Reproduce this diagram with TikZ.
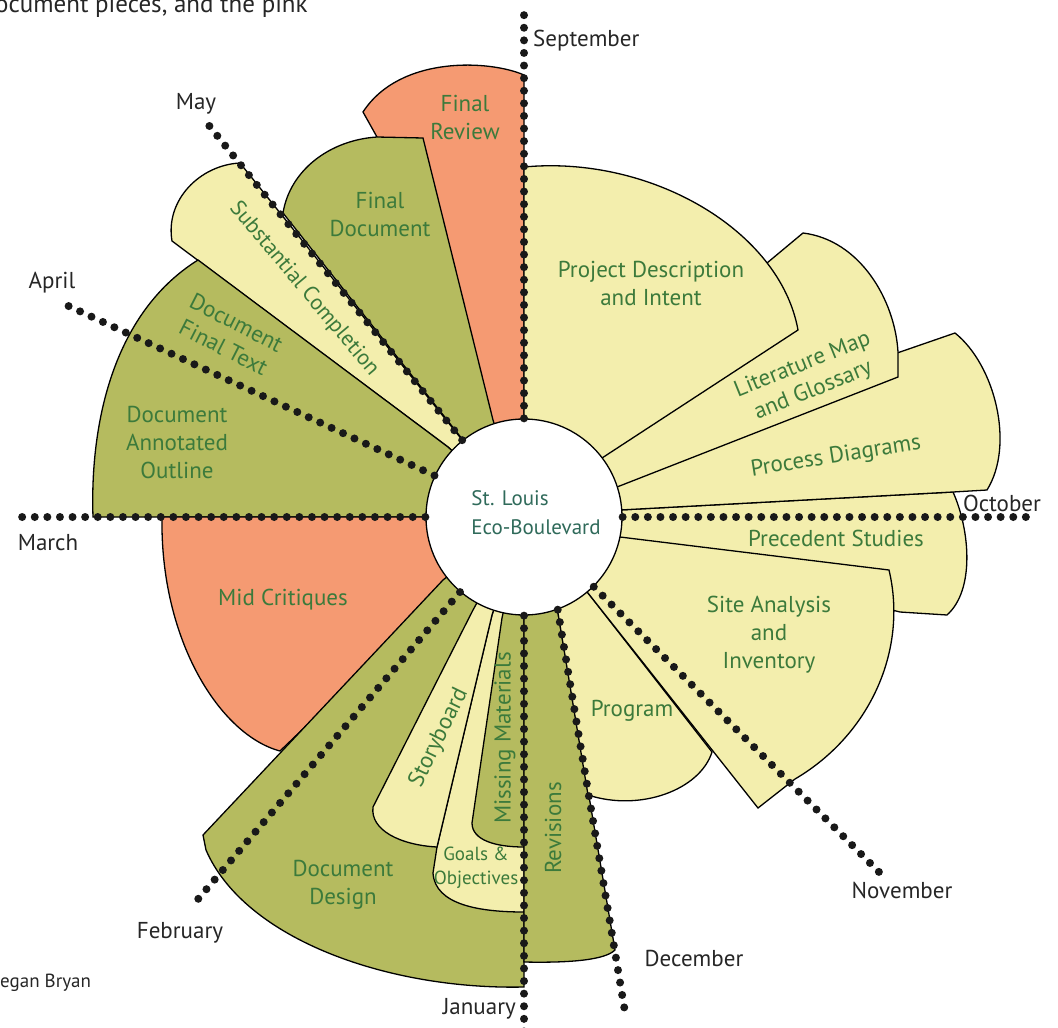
\documentclass[tikz,border=0pt]{standalone}
\usepackage{fontspec}
\setmainfont{PT Sans}
\definecolor{paleyellow}{HTML}{F3EEAD}
\definecolor{olivegreen}{HTML}{B5BB5F}
\definecolor{salmonpink}{HTML}{F59A72}
\definecolor{taskgreen}{HTML}{3C7A3B}
\definecolor{hubtext}{HTML}{2F6A5A}
\begin{document}
\begin{tikzpicture}[x=1pt,y=-1pt,
  pale/.style={draw=black,line width=1.3pt,fill=paleyellow},
  olive/.style={draw=black,line width=1.3pt,fill=olivegreen},
  salmon/.style={draw=black,line width=1.3pt,fill=salmonpink},
  month/.style={line width=8pt,dash pattern=on 0pt off 12.6pt,line cap=round,black!90},
  task/.style={text=taskgreen,font=\fontsize{23}{28}\selectfont,align=center,inner sep=0pt},
  monthlbl/.style={text=black!85,font=\fontsize{23}{26}\selectfont,inner sep=0pt}]
\useasboundingbox (0,0) rectangle (1058,1028);
\coordinate (c) at (524,517);
% the sectors, back to front
%     spring
\draw[salmon] (c) -- (524,75) .. controls (490,60) and (400,55) .. (363,112) -- (377,137) -- (450,300) -- cycle;
\draw[olive] (c) -- (283,213) .. controls (290,170) and (330,140) .. (377,137) -- (423,138) -- (493,420) -- cycle;
\draw[pale] (c) -- (240,163) .. controls (200,165) and (165,200) .. (172,241) -- (448,447) -- cycle;
\draw[olive] (c) -- (448,447) -- (198,260) .. controls (110,315) and (90,430) .. (93,517) -- cycle;
\draw[salmon] (c) -- (162,517) .. controls (160,640) and (220,735) .. (280,751) -- cycle;
%     winter
\draw[olive] (c) -- (443,580) -- (203,835) -- (206,850) .. controls (245,940) and (390,990) .. (524,987) -- cycle;
\draw[pale] (c) -- (492,615) -- (437,847) -- (433,873) .. controls (435,905) and (480,912) .. (524,912) -- cycle;
\draw[pale] (c) -- (473,610) -- (373,807) .. controls (370,830) and (400,845) .. (437,847) -- (492,615) -- cycle;
\draw[olive] (c) -- (502,618) -- (472,823) .. controls (472,840) and (495,847) .. (524,847) -- cycle;
\draw[olive] (c) -- (524,962) .. controls (570,963) and (605,960) .. (615,950) -- (558,613) -- cycle;
%     fall
\draw[pale] (c) -- (558,613) -- (588,795) .. controls (640,812) and (700,790) .. (712,752) -- (588,593) -- cycle;
\draw[pale] (c) -- (620,510) -- (953,492) .. controls (970,530) and (975,590) .. (947,615) -- (900,612) -- cycle;
\draw[pale] (c) -- (620,537) -- (889,570) .. controls (908,650) and (870,735) .. (795,779) -- (758,808) -- (588,593) -- cycle;
\draw[pale] (c) -- (620,510) -- (953,492) -- (987,490) .. controls (1015,445) and (995,365) .. (955,333) -- (900,352) -- (700,421) -- cycle;
\draw[pale] (c) -- (617,487) -- (898,377) -- (898,352) .. controls (895,300) and (860,240) .. (803,233) -- (773,258) -- (720,302) -- cycle;
\draw[pale] (c) -- (524,167) .. controls (650,155) and (780,230) .. (798,330) -- (602,458) -- cycle;
% the hub
\node[circle,draw=black,line width=1.3pt,fill=white,minimum size=196pt,inner sep=0pt] (hub) at (c) {};
\node[text=hubtext,font=\fontsize{21}{29}\selectfont,align=left,inner sep=0pt] (hublbl) at (536,513) {St. Louis\\Eco-Boulevard};
% the months
\coordinate (sepEnd) at (524,6);
\coordinate (octEnd) at (1032,517);
\coordinate (novEnd) at (880,873);
\coordinate (decEnd) at (625,1012);
\coordinate (janEnd) at (524,1032);
\coordinate (febEnd) at (193,905);
\coordinate (marEnd) at (15,517);
\coordinate (aprEnd) at (62,303);
\coordinate (mayEnd) at (207,123);
\draw[month] (hub) -- (sepEnd);
\draw[month] (hub) -- (octEnd);
\draw[month] (hub) -- (novEnd);
\draw[month] (hub.-70.5) -- (decEnd);
\draw[month] (hub) -- (janEnd);
\draw[month] (hub) -- (febEnd);
\draw[month] (hub) -- (marEnd);
\draw[month] (hub) -- (aprEnd);
\draw[month] (hub) -- (mayEnd);
\node[monthlbl,anchor=west] (sep) at (533,41) {September};
\node[monthlbl] (oct) at (1002,503) {October};
\node[monthlbl] (nov) at (902,890) {November};
\node[monthlbl] (dec) at (694,958) {December};
\node[monthlbl,anchor=east] (jan) at (516,1009) {January};
\node[monthlbl] (feb) at (180,933) {February};
\node[monthlbl] (mar) at (48,543) {March};
\node[monthlbl] (apr) at (52,283) {April};
\node[monthlbl] (may) at (196,104) {May};
% the tasks
\node[task] (finalReview) at (465,117) {Final\\Review};
\node[task] (finalDoc) at (380,214) {Final\\Document};
\node[task,rotate=-50,font=\fontsize{22}{28}\selectfont] (substantial) at (304,289) {Substantial Completion};
\node[task,rotate=-27] (finalText) at (230,335) {Document\\Final Text};
\node[task] (outline) at (177,442) {Document\\Annotated\\Outline};
\node[task] (midCrit) at (283,600) {Mid Critiques};
\node[task] (docDesign) at (343,885) {Document\\Design};
\node[task,rotate=64] (storyboard) at (439,738) {Storyboard};
\node[task,font=\fontsize{19}{24}\selectfont] (goals) at (476,868) {Goals \&\\Objectives};
\node[task,rotate=90] (missing) at (505,738) {Missing Materials};
\node[task,rotate=90] (revisions) at (553,828) {Revisions};
\node[task] (program) at (632,711) {Program};
\node[task] (site) at (769,635) {Site Analysis\\and\\Inventory};
\node[task] (precedent) at (836,538) {Precedent Studies};
\node[task,rotate=9] (process) at (836,457) {Process Diagrams};
\node[task,rotate=22] (literature) at (808,378) {Literature Map\\and Glossary};
\node[task] (project) at (651,283) {Project Description\\and Intent};
% cut-off captions
\node[monthlbl,font=\fontsize{25}{28}\selectfont,anchor=base west] (topcap) at (-5,12) {ocument pieces, and the pink};
\node[monthlbl,font=\fontsize{19}{22}\selectfont,anchor=base west] (credit) at (0,987) {egan Bryan};
\end{tikzpicture}
\end{document}
